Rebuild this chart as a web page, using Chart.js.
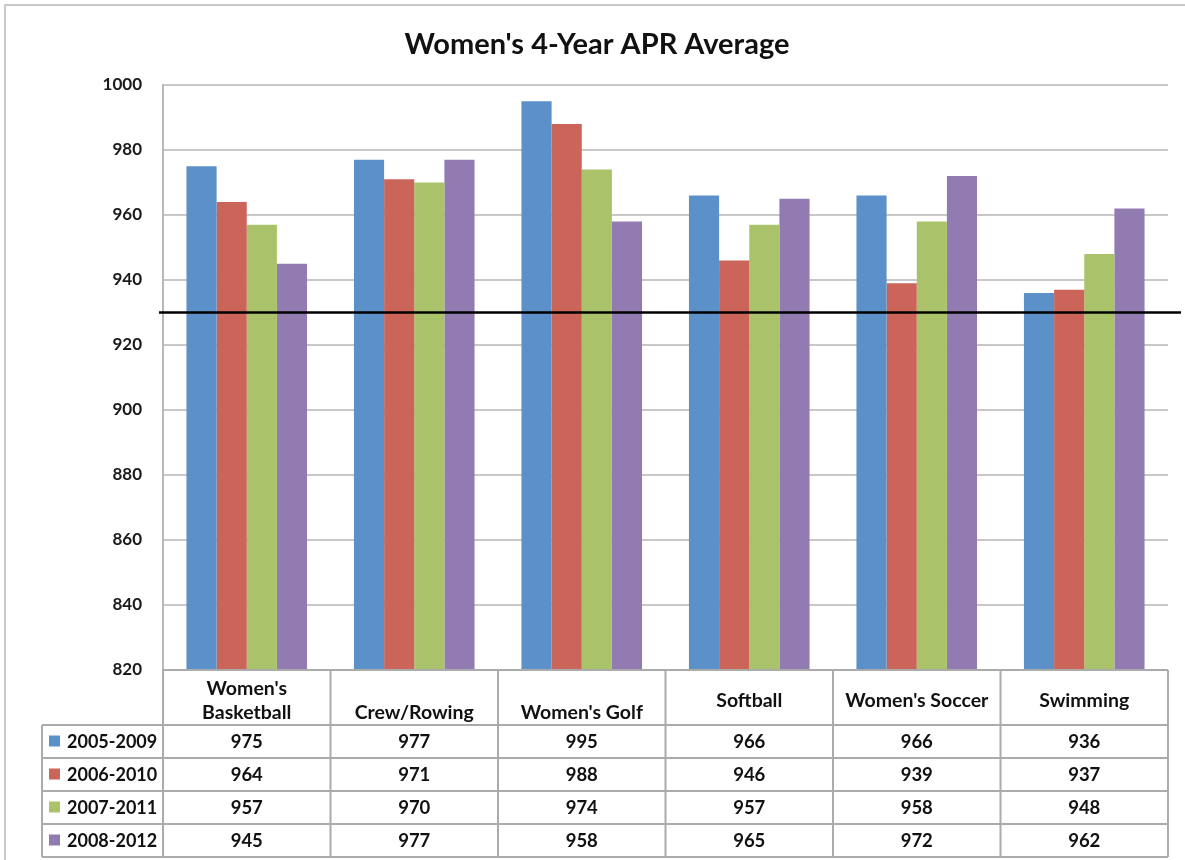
<!DOCTYPE html>
<html>
<head>
<meta charset="utf-8">
<script src="https://cdn.jsdelivr.net/npm/chart.js@4/dist/chart.umd.min.js"></script>
<style>
  html, body { margin: 0; padding: 0; background: #ffffff; }
  canvas { display: block; }
</style>
</head>
<body>
<canvas id="apr" width="1185" height="860"></canvas>
<script>
// Sports shown in the data table header (blank first line pushes a label down)
const sports = [
  ["Women's", "Basketball"],
  ["", "Crew/Rowing"],
  ["", "Women's Golf"],
  ["Softball"],
  ["Women's Soccer"],
  ["Swimming"]
];

// Four-year windows
const periods = ["2005-2009", "2006-2010", "2007-2011", "2008-2012"];

// APR averages per window, one value per sport
const apr0509 = [975, 977, 995, 966, 966, 936];
const apr0610 = [964, 971, 988, 946, 939, 937];
const apr0711 = [957, 970, 974, 957, 958, 948];
const apr0812 = [945, 977, 958, 965, 972, 962];

// Value axis labels and the penalty cut line
const yTicks = [820, 840, 860, 880, 900, 920, 940, 960, 980, 1000];
const cutLine = 930;

const chartTitle = "Women's 4-Year APR Average";

const seriesColors = ["#5b90c8", "#cb655a", "#aac36b", "#917bb1"];
const FONT = "Lato, 'Open Sans', sans-serif";
const GRID = "#c8c8c8";
const TABLE_LINE = "#ababab";

const seriesValues = [apr0509, apr0610, apr0711, apr0812];

// Outer frame, title, cut line and the data table under the plot
const decorations = {
  id: 'decorations',
  beforeDraw(chart) {
    const ctx = chart.ctx;
    ctx.save();
    ctx.strokeStyle = GRID;
    ctx.lineWidth = 2;
    ctx.beginPath();
    ctx.moveTo(5, 1000);
    ctx.lineTo(5, 5);
    ctx.lineTo(1400, 5);
    ctx.stroke();
    ctx.restore();
  },
  afterDatasetsDraw(chart) {
    const ctx = chart.ctx;
    const area = chart.chartArea;
    const x = chart.scales.x;
    const y = chart.scales.y;

    ctx.save();
    // Title
    ctx.fillStyle = "#111111";
    ctx.font = "bold 29px " + FONT;
    ctx.textAlign = "center";
    ctx.textBaseline = "middle";
    ctx.fillText(chartTitle, 597, 45);

    // Cut line at 930
    const yc = y.getPixelForValue(cutLine);
    ctx.strokeStyle = "#000000";
    ctx.lineWidth = 2.5;
    ctx.beginPath();
    ctx.moveTo(area.left - 4, yc);
    ctx.lineTo(1181, yc);
    ctx.stroke();

    // Data table
    const n = sports.length;
    const colW = (area.right - area.left) / n;
    const top = area.bottom;
    const headerH = 55;
    const rowH = 33;
    const tableLeft = 42;
    const bottom = top + headerH + rowH * periods.length;

    ctx.strokeStyle = TABLE_LINE;
    ctx.lineWidth = 2;
    ctx.beginPath();
    // header top edge
    ctx.moveTo(area.left, top);
    ctx.lineTo(area.right, top);
    // row separators
    for (let r = 0; r <= periods.length; r++) {
      const yy = top + headerH + r * rowH;
      ctx.moveTo(tableLeft, yy);
      ctx.lineTo(area.right, yy);
    }
    // left edge of the legend column
    ctx.moveTo(tableLeft, top + headerH);
    ctx.lineTo(tableLeft, bottom);
    // column separators
    for (let c = 0; c <= n; c++) {
      const xx = area.left + c * colW;
      ctx.moveTo(xx, top);
      ctx.lineTo(xx, bottom);
    }
    ctx.stroke();

    ctx.fillStyle = "#111111";
    ctx.textAlign = "center";
    ctx.textBaseline = "middle";

    // Header labels
    ctx.font = "bold 19.5px " + FONT;
    const lineH = 24;
    for (let c = 0; c < n; c++) {
      const cx = x.getPixelForValue(c);
      const lines = sports[c];
      const startY = top + headerH / 2 + 3 - (lines.length - 1) * lineH / 2;
      lines.forEach((t, k) => ctx.fillText(t, cx, startY + k * lineH));
    }

    // Values and legend keys
    for (let r = 0; r < periods.length; r++) {
      const cy = top + headerH + r * rowH + rowH / 2 + 1;
      ctx.fillStyle = seriesColors[r];
      ctx.fillRect(49, cy - 7, 11, 11);
      ctx.fillStyle = "#111111";
      ctx.font = "bold 18px " + FONT;
      ctx.textAlign = "left";
      ctx.fillText(periods[r], 67, cy);
      ctx.textAlign = "center";
      ctx.font = "bold 18.5px " + FONT;
      for (let c = 0; c < n; c++) {
        ctx.fillText(String(seriesValues[r][c]), x.getPixelForValue(c), cy);
      }
    }
    ctx.restore();
  }
};

new Chart(document.getElementById('apr'), {
  type: 'bar',
  data: {
    labels: sports.map(s => s.filter(Boolean).join(' ')),
    datasets: periods.map((p, i) => ({
      label: p,
      data: seriesValues[i],
      backgroundColor: seriesColors[i],
      borderWidth: 0,
      categoryPercentage: 0.72,
      barPercentage: 1.0
    }))
  },
  options: {
    responsive: false,
    devicePixelRatio: 1,
    animation: false,
    layout: { padding: { top: 85, left: 0, right: 17, bottom: 190 } },
    plugins: {
      legend: { display: false },
      title: { display: false },
      tooltip: { enabled: false }
    },
    scales: {
      x: { display: false, offset: true },
      y: {
        min: yTicks[0],
        max: yTicks[yTicks.length - 1],
        afterBuildTicks(scale) { scale.ticks = yTicks.map(v => ({ value: v })); },
        afterFit(scale) { scale.width = 163; },
        ticks: {
          color: "#1a1a1a",
          padding: 21,
          font: { family: FONT, size: 17, weight: 'bold' },
          callback: v => String(v)
        },
        grid: { color: GRID, lineWidth: 2, drawTicks: false },
        border: { display: true, color: "#b8b8b8", width: 2 }
      }
    }
  },
  plugins: [decorations]
});
</script>
</body>
</html>
